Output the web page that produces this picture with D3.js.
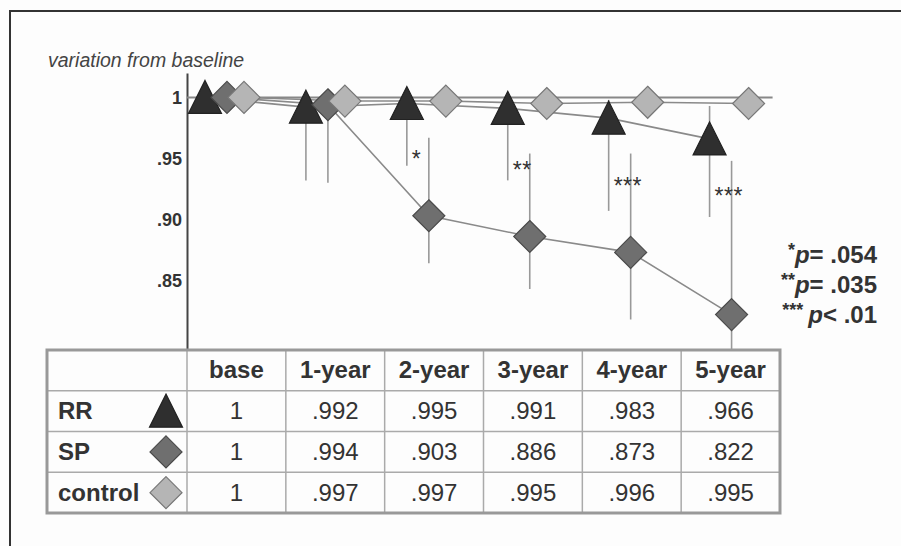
<!DOCTYPE html>
<html>
<head>
<meta charset="utf-8">
<script src="https://cdn.jsdelivr.net/npm/d3@7"></script>
<style>
  body { margin: 0; background: #fdfdfd; }
  svg { display: block; font-family: "Liberation Sans", Arial, sans-serif; }
</style>
</head>
<body>
<div id="chart"></div>
<script>
// time points (table columns)
const periods = ["base", "1-year", "2-year", "3-year", "4-year", "5-year"];

// mean variation from baseline
const rrValues = [1, 0.992, 0.995, 0.991, 0.983, 0.966];
const spValues = [1, 0.994, 0.903, 0.886, 0.873, 0.822];
const controlValues = [1, 0.997, 0.997, 0.995, 0.996, 0.995];

// error bar ends (null = no bar)
const rrLow = [null, 0.932, 0.944, 0.932, 0.907, 0.902];
const rrHigh = [null, 0.999, 1.0, 0.996, 0.998, 0.993];
const spLow = [null, 0.930, 0.864, 0.843, 0.818, 0.79];
const spHigh = [null, 1.0, 0.967, 0.954, 0.954, 0.948];

// y axis
const yTicks = [1, 0.95, 0.90, 0.85];
const yTickLabels = ["1", ".95", ".90", ".85"];

// significance marks between RR and SP
const sigPeriods = ["2-year", "3-year", "4-year", "5-year"];
const sigMarks = ["*", "**", "***", "***"];
const sigLevel = [0.952, 0.943, 0.930, 0.922];

// p-value key
const pStars = ["*", "**", "***"];
const pText = ["= .054", "= .035", "< .01"];

// table cell text
const tableValues = {
  RR: ["1", ".992", ".995", ".991", ".983", ".966"],
  SP: ["1", ".994", ".903", ".886", ".873", ".822"],
  control: ["1", ".997", ".997", ".995", ".996", ".995"]
};

const W = 901, H = 546;
const plotLeft = 187, plotTop = 73, plotBottom = 350;
const tableLeft = 47, tableRight = 780, tableBottom = 513;

const series = [
  { name: "RR", values: rrValues, low: rrLow, high: rrHigh, shape: "triangle", fill: "#2f2f2f", stroke: "#222", dx: 0 },
  { name: "SP", values: spValues, low: spLow, high: spHigh, shape: "diamond", fill: "#6f6f6f", stroke: "#4a4a4a", dx: 22 },
  { name: "control", values: controlValues, low: null, high: null, shape: "diamond", fill: "#b5b5b5", stroke: "#777", dx: 39 }
];

const shapes = {
  triangle: "M0,-17L16.5,16L-16.5,16Z",
  diamond: "M0,-16L16,0L0,16L-16,0Z"
};

const svg = d3.select("#chart").append("svg")
    .attr("width", W)
    .attr("height", H);

svg.append("rect").attr("width", W).attr("height", H).attr("fill", "#fdfdfd");

// frame (top and left only visible)
svg.append("path")
    .attr("d", `M10,${H}V11H${W}`)
    .attr("fill", "none")
    .attr("stroke", "#333")
    .attr("stroke-width", 2);

// scales
const colX = d3.scaleBand().domain(periods).range([plotLeft, tableRight]);
const xPos = d3.scalePoint().domain(periods)
    .range([plotLeft + 18, colX("5-year") + colX.bandwidth() / 2 - 21]);
const y = d3.scaleLinear().domain([0.793, 1.02]).range([plotBottom, plotTop]).clamp(true);

// y axis
const yAxis = svg.append("g")
    .attr("transform", `translate(${plotLeft},0)`)
    .call(d3.axisLeft(y).tickValues(yTicks)
      .tickFormat((d, i) => yTickLabels[i])
      .tickSize(0).tickSizeOuter(0).tickPadding(5));
yAxis.select(".domain").attr("stroke", "#444").attr("stroke-width", 2);
yAxis.selectAll("text")
    .attr("font-size", 18)
    .attr("font-weight", "bold")
    .attr("fill", "#333")
    .attr("font-family", "Liberation Sans, Arial, sans-serif");

svg.append("text")
    .attr("x", 48).attr("y", 67)
    .attr("font-size", 19.5)
    .attr("font-style", "italic")
    .attr("fill", "#444")
    .text("variation from baseline");

// reference line at 1
svg.append("line")
    .attr("x1", plotLeft).attr("x2", xPos("5-year") + 63)
    .attr("y1", y(1)).attr("y2", y(1))
    .attr("stroke", "#888").attr("stroke-width", 2);

// error bars
series.filter(s => s.low).forEach(s => {
  svg.append("g").selectAll("line")
    .data(periods.filter((p, i) => s.low[i] != null))
    .join("line")
      .attr("x1", p => xPos(p) + s.dx)
      .attr("x2", p => xPos(p) + s.dx)
      .attr("y1", p => y(s.high[periods.indexOf(p)]))
      .attr("y2", p => y(s.low[periods.indexOf(p)]))
      .attr("stroke", "#999")
      .attr("stroke-width", 1.6);
});

// connecting lines
const line = d3.line()
    .x((d, i) => xPos(periods[i]))
    .y(d => y(d));

series.forEach(s => {
  svg.append("path")
      .datum(s.values)
      .attr("d", line)
      .attr("transform", `translate(${s.dx},0)`)
      .attr("fill", "none")
      .attr("stroke", "#8a8a8a")
      .attr("stroke-width", 1.6);
});

// markers
series.forEach(s => {
  svg.append("g").selectAll("path")
    .data(s.values)
    .join("path")
      .attr("d", shapes[s.shape])
      .attr("transform", (d, i) => `translate(${xPos(periods[i]) + s.dx},${y(d)})`)
      .attr("fill", s.fill)
      .attr("stroke", s.stroke)
      .attr("stroke-width", 1.2);
});

// significance stars
svg.append("g").selectAll("text")
  .data(sigPeriods)
  .join("text")
    .attr("x", p => xPos(p) + 5)
    .attr("y", (p, i) => y(sigLevel[i]) + 11)
    .attr("font-size", 23)
    .attr("letter-spacing", 0.5)
    .attr("fill", "#333")
    .text((p, i) => sigMarks[i]);

// p-value key
const key = svg.append("g").selectAll("text")
  .data(pText)
  .join("text")
    .attr("x", 877)
    .attr("y", (d, i) => 263 + i * 30)
    .attr("text-anchor", "end")
    .attr("font-size", 24)
    .attr("font-weight", "bold")
    .attr("fill", "#333");
key.append("tspan")
    .attr("font-size", 18)
    .attr("dy", -7)
    .text((d, i) => pStars[i] + (i === 2 ? " " : ""));
key.append("tspan")
    .attr("font-style", "italic")
    .attr("dy", 7)
    .text("p");
key.append("tspan").text(d => d);

// table
const rows = ["header", "RR", "SP", "control"];
const rowY = d3.scaleBand().domain(rows).range([plotBottom, tableBottom]);
const table = svg.append("g");

table.append("g").selectAll("line")
  .data(rows.slice(1))
  .join("line")
    .attr("x1", tableLeft).attr("x2", tableRight)
    .attr("y1", r => rowY(r)).attr("y2", r => rowY(r))
    .attr("stroke", "#aaa").attr("stroke-width", 1.5);

table.append("g").selectAll("line")
  .data(periods)
  .join("line")
    .attr("x1", p => colX(p)).attr("x2", p => colX(p))
    .attr("y1", plotBottom).attr("y2", tableBottom)
    .attr("stroke", "#aaa").attr("stroke-width", 1.5);

table.append("rect")
    .attr("x", tableLeft).attr("y", plotBottom)
    .attr("width", tableRight - tableLeft)
    .attr("height", tableBottom - plotBottom)
    .attr("fill", "none")
    .attr("stroke", "#999")
    .attr("stroke-width", 3);

const textY = r => rowY(r) + rowY.bandwidth() / 2 + 8;

table.append("g").selectAll("text")
  .data(periods)
  .join("text")
    .attr("x", p => colX(p) + colX.bandwidth() / 2)
    .attr("y", textY("header"))
    .attr("text-anchor", "middle")
    .attr("font-size", 24)
    .attr("font-weight", "bold")
    .attr("fill", "#333")
    .text(p => p);

series.forEach(s => {
  table.append("text")
      .attr("x", 58)
      .attr("y", textY(s.name))
      .attr("font-size", 24)
      .attr("font-weight", "bold")
      .attr("fill", "#333")
      .text(s.name);
  table.append("path")
      .attr("d", shapes[s.shape])
      .attr("transform", `translate(166,${rowY(s.name) + rowY.bandwidth() / 2})`)
      .attr("fill", s.fill)
      .attr("stroke", s.stroke)
      .attr("stroke-width", 1.2);
  table.append("g").selectAll("text")
    .data(tableValues[s.name])
    .join("text")
      .attr("x", (d, i) => colX(periods[i]) + colX.bandwidth() / 2)
      .attr("y", textY(s.name))
      .attr("text-anchor", "middle")
      .attr("font-size", 24)
      .attr("fill", "#333")
      .text(d => d);
});
</script>
</body>
</html>
